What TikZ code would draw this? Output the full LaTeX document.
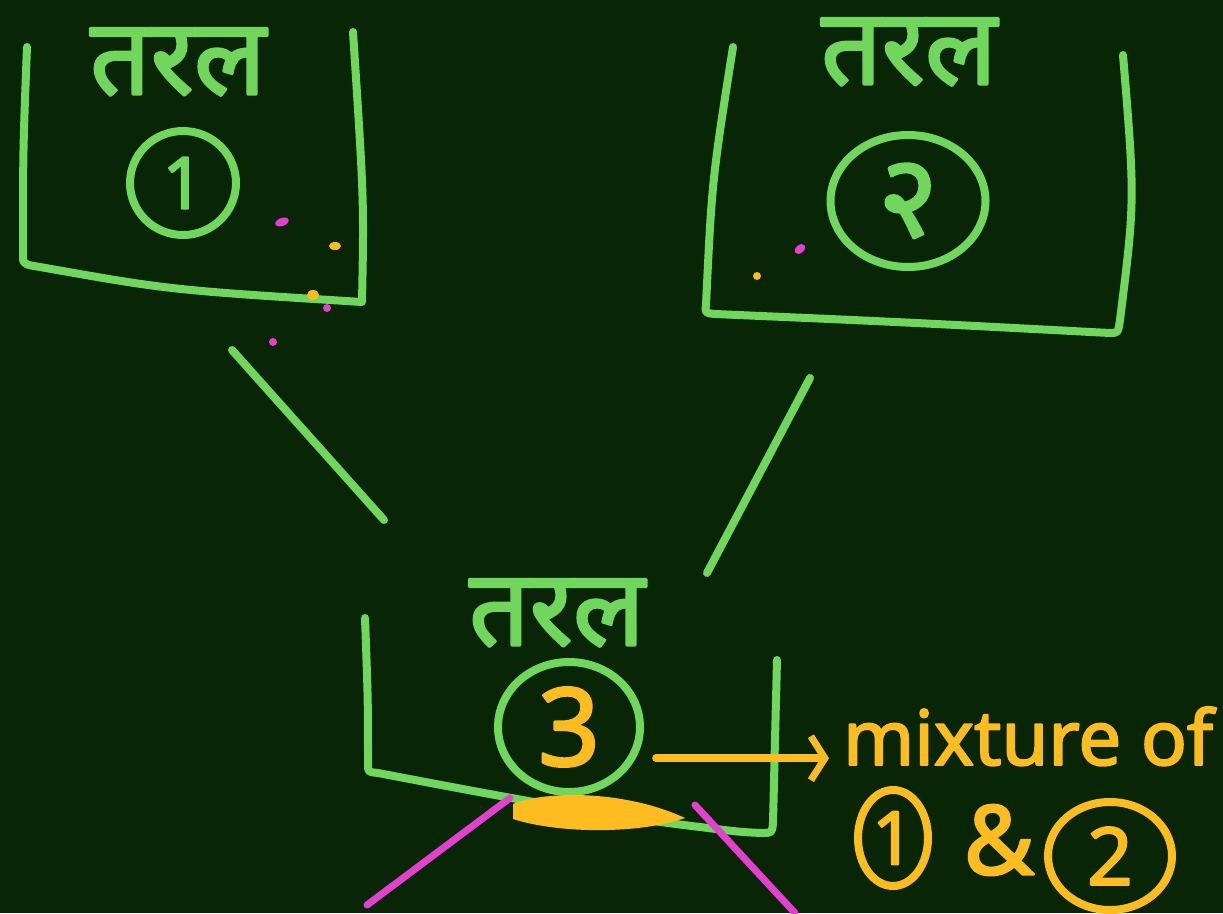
\documentclass[tikz,border=0pt]{standalone}
\usepackage{fontspec}
\setmainfont{Noto Sans}
\newfontfamily\heavy[FakeBold=2.5]{Noto Sans}
\newfontfamily\deva[Script=Devanagari,FakeBold=2.5]{Noto Sans}
\usetikzlibrary{arrows.meta,shapes.geometric}
\definecolor{bg}{RGB}{8,38,6}
\definecolor{chalk}{RGB}{112,214,92}
\definecolor{amber}{RGB}{253,188,32}
\definecolor{pinkink}{RGB}{228,64,208}
\begin{document}
\begin{tikzpicture}[x=1pt,y=-1pt,line cap=round,line join=round,
  gline/.style={draw=chalk,line width=8pt},
  yline/.style={draw=amber,line width=7.5pt},
  mline/.style={draw=pinkink,line width=7pt},
  label/.style={text=chalk,inner sep=0pt,font=\deva\fontsize{106}{110}\selectfont},
  ring/.style={ellipse,draw=chalk,line width=8pt,inner sep=0pt},
  yring/.style={ellipse,draw=amber,line width=8pt,inner sep=0pt,text=amber}]
\fill[bg] (0,0) rectangle (1223,913);
\useasboundingbox (0,0) rectangle (1223,913);
% boxes
\draw[gline] (27,47) .. controls (23,150) .. (23,258) .. controls (23,265) and (28,265) .. (40,267) .. controls (170,290) .. (362,302) .. controls (364,200) .. (353,32);
\draw[gline] (733,47) .. controls (712,180) .. (706,305) .. controls (705,313) .. (715,314) .. controls (900,322) .. (1110,333) .. controls (1118,333) .. (1120,320) .. controls (1135,200) .. (1123,55);
\draw[gline] (365,618) .. controls (368,700) .. (368,765) .. controls (368,772) .. (378,773) .. controls (520,800) and (600,815) .. (700,827) .. controls (740,832) .. (762,833) .. controls (772,833) .. (773,823) .. controls (775,740) .. (777,660);
% labels
\node[label] (t1) at (178,62) {तरल};
\node[label] (t2) at (909,52) {तरल};
\node[label] (t3) at (557,613) {तरल};
% rings
\node[ring,minimum width=106pt,minimum height=104pt,text=chalk,font=\heavy\fontsize{72}{72}\selectfont] (c1) at (183,183) {1};
\node[ring,minimum width=155pt,minimum height=132pt,text=chalk,font=\deva\fontsize{115}{115}\selectfont] (c2) at (908,201) {२};
\node[ring,minimum width=142pt,minimum height=130pt,text=amber,font=\heavy\fontsize{108}{108}\selectfont] (c3) at (569,727) {3};
% links
\coordinate (l1a) at (232,350); \coordinate (l1b) at (384,520);
\coordinate (l2a) at (810,378); \coordinate (l2b) at (707,573);
\draw[gline] (l1a) -- (l1b);
\draw[gline] (l2a) -- (l2b);
% blob
\fill[amber] (513,804) .. controls (540,792) and (620,788) .. (685,818) .. controls (640,834) and (560,834) .. (513,819) -- cycle;
% magenta lines
\coordinate (m1a) at (510,798); \coordinate (m1b) at (367,905);
\coordinate (m2a) at (695,805); \coordinate (m2b) at (795,913);
\draw[mline] (m1a) -- (m1b);
\draw[mline] (m2a) -- (m2b);
% mixture text
\node[anchor=base west,inner sep=0pt,text=amber,font=\heavy\fontsize{76}{78}\selectfont] (mix) at (843,765) {mixture of};
\draw[yline,-{Straight Barb[length=14pt,width=44pt,line width=7pt]},shorten <=20pt,shorten >=14pt] (c3.-25) -- (c3.-25 -| mix.west);
\node[yring,minimum width=70pt,minimum height=96pt,font=\heavy\fontsize{74}{74}\selectfont] (r1) at (893,838) {1};
\node[inner sep=0pt,text=amber,font=\heavy\fontsize{96}{96}\selectfont] (amp) at (999,840) {\&};
\node[yring,minimum width=124pt,minimum height=108pt,font=\heavy\fontsize{80}{80}\selectfont] (r2) at (1110,856) {2};
% specks
\fill[pinkink,rotate around={20:(282,222)}] (282,222) ellipse (7pt and 4pt);
\fill[amber] (335,246) ellipse (6pt and 4pt);
\fill[amber] (313,295) ellipse (6pt and 5pt);
\fill[pinkink] (327,308) ellipse (4pt and 4pt);
\fill[pinkink] (273,342) circle (4pt);
\fill[pinkink,rotate around={40:(800,249)}] (800,249) ellipse (6pt and 4pt);
\fill[amber] (757,276) circle (4pt);
\end{tikzpicture}
\end{document}
